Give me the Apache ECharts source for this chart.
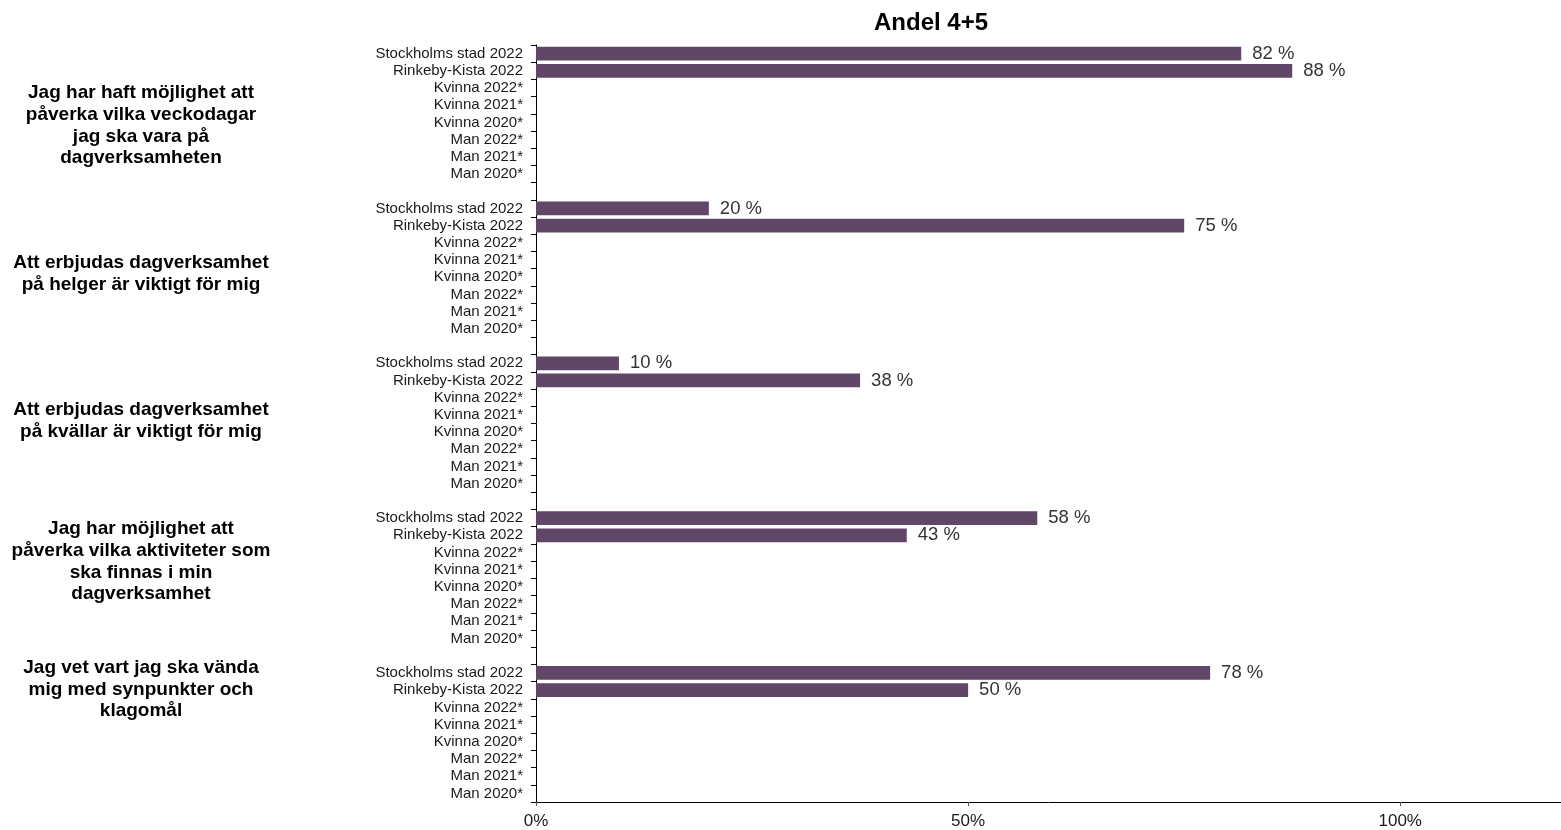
<!DOCTYPE html>
<html>
<head>
<meta charset="utf-8">
<script src="https://cdn.jsdelivr.net/npm/echarts@6/dist/echarts.min.js"></script>
<style>
html,body{margin:0;padding:0;background:#fff;}
#chart{width:1561px;height:830px;}
</style>
</head>
<body>
<div id="chart"></div>
<script>
// ---- data ----
const chartTitle = 'Andel 4+5';
const groupLabels = [
  'Jag har haft möjlighet att\npåverka vilka veckodagar\njag ska vara på\ndagverksamheten',
  'Att erbjudas dagverksamhet\npå helger är viktigt för mig',
  'Att erbjudas dagverksamhet\npå kvällar är viktigt för mig',
  'Jag har möjlighet att\npåverka vilka aktiviteter som\nska finnas i min\ndagverksamhet',
  'Jag vet vart jag ska vända\nmig med synpunkter och\nklagomål'
];
const rowLabels = ['Stockholms stad 2022', 'Rinkeby-Kista 2022', 'Kvinna 2022*', 'Kvinna 2021*', 'Kvinna 2020*', 'Man 2022*', 'Man 2021*', 'Man 2020*'];
const stockholmValues = [81.6, 20, 9.6, 58, 78];
const rinkebyValues = [87.5, 75, 37.5, 42.9, 50];
const xTickValues = [0, 50, 100];

// ---- build categories & series data ----
const categories = [];
const values = [];
groupLabels.forEach((g, gi) => {
  rowLabels.forEach((r, ri) => {
    categories.push(r);
    if (ri === 0) values.push(stockholmValues[gi]);
    else if (ri === 1) values.push(rinkebyValues[gi]);
    else values.push(null);
  });
  if (gi < groupLabels.length - 1) { categories.push(''); values.push(null); }
});

const FONT = '"Liberation Sans", Arial, sans-serif';
const groupCenters = [125.5, 274, 421, 561.5, 689.5];

const chart = echarts.init(document.getElementById('chart'), null, {renderer: 'canvas'});
chart.setOption({
  animation: false,
  backgroundColor: '#ffffff',
  title: {
    text: chartTitle,
    left: 926,
    top: 6,
    textAlign: 'center',
    textStyle: {fontFamily: FONT, fontSize: 24, fontWeight: 'bold', color: '#000'}
  },
  grid: {left: 536, right: 0, top: 45, bottom: 28, containLabel: false},
  xAxis: {
    type: 'value',
    min: 0,
    max: 118.6,
    interval: 50,
    splitLine: {show: false},
    axisLine: {show: true, lineStyle: {color: '#000', width: 1}},
    axisTick: {show: true, length: 4, customValues: xTickValues, lineStyle: {color: '#555'}},
    axisLabel: {
      customValues: xTickValues,
      margin: 11,
      fontFamily: FONT, fontSize: 17, color: '#1a1a1a',
      formatter: v => (v % 50 === 0 ? v + '%' : '')
    }
  },
  yAxis: {
    type: 'category',
    inverse: true,
    data: categories,
    axisLine: {show: true, lineStyle: {color: '#000', width: 1}},
    axisTick: {show: true, length: 5, lineStyle: {color: '#000'}},
    axisLabel: {interval: 0, margin: 13, fontFamily: FONT, fontSize: 15, color: '#1a1a1a'},
    splitLine: {show: false}
  },
  graphic: groupLabels.map((t, i) => ({
    type: 'text',
    x: 141,
    y: groupCenters[i],
    style: {
      text: t,
      textAlign: 'center',
      textVerticalAlign: 'middle',
      fontFamily: FONT,
      fontSize: 19,
      fontWeight: 'bold',
      lineHeight: 21.7,
      fill: '#000'
    }
  })),
  series: [{
    type: 'bar',
    data: values,
    barCategoryGap: '20%',
    itemStyle: {color: '#614767'},
    label: {
      show: true,
      position: 'right',
      distance: 11,
      fontFamily: FONT,
      fontSize: 18.5,
      color: '#333',
      formatter: p => (p.value == null ? '' : Math.round(p.value) + ' %')
    }
  }]
});
</script>
</body>
</html>
